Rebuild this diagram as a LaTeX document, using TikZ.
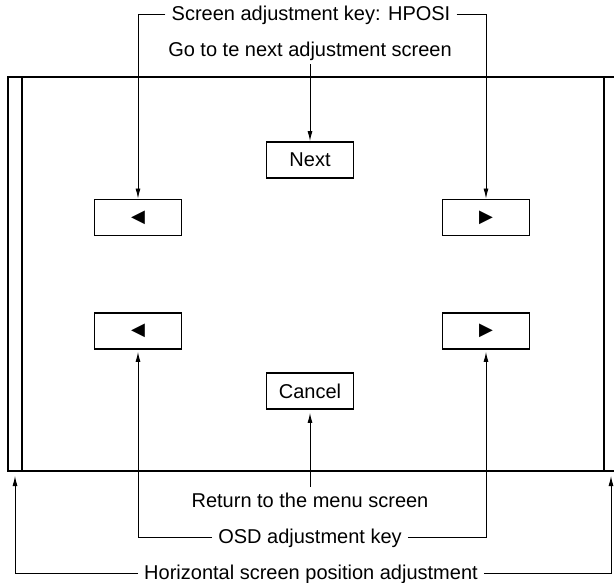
\documentclass[tikz,border=0pt]{standalone}
\usepackage{fontspec}
\setmainfont{Liberation Sans}
\newfontfamily\symfont{DejaVu Sans}
\usetikzlibrary{arrows.meta, positioning}
\tikzset{
  key/.style={draw, line width=1.9pt, minimum width=87pt, minimum height=36pt, inner sep=0pt},
  note/.style={inner xsep=6pt, inner ysep=7pt, text height=13.5pt, text depth=0pt},
  arrow/.style={-{Latex[length=10pt,width=5pt]}, line width=0.9pt},
  frame/.style={line width=1.4pt},
  every node/.style={font=\fontsize{20}{23}\selectfont}
}

\begin{document}
\begin{tikzpicture}[x=1pt,y=-1pt]
    \useasboundingbox (0,0) rectangle (614,583);
    % screen frame
    \draw[frame] (614,77) -- (8,77) -- (8,471) -- (614,471);
    \draw[frame] (22,77) -- (22,471);
    \draw[frame] (604,77) -- (604,471);
    % keys on the screen
    \node[key] (next) at (310,160) {Next};
    \node[key] (lt) at (138,217.5) {\symfont\fontsize{18}{20}\selectfont ◀};
    \node[key] (rt) at (486,217.5) {\symfont\fontsize{18}{20}\selectfont ▶};
    \node[key] (lb) at (138,331) {\symfont\fontsize{18}{20}\selectfont ◀};
    \node[key] (rb) at (486,331) {\symfont\fontsize{18}{20}\selectfont ▶};
    \node[key] (cancel) at (310,391) {Cancel};
    % labels
    \node[note] (hposi) at (311,14) {Screen adjustment key: HPOSI};
    \node[note] (gonext) at (310,49.5) {Go to te next adjustment screen};
    \node[note] (ret) at (310,500.5) {Return to the menu screen};
    \node[note] (osd) at (310,537) {OSD adjustment key};
    \node[note] (hpos) at (311,573) {Horizontal screen position adjustment};
    \coordinate (fl) at (15,476);
    \coordinate (fr) at (611,476);
    % leaders
    \draw[arrow] (hposi.west) -| (lt.north);
    \draw[arrow] (hposi.east) -| (rt.north);
    \draw[arrow, shorten <=1pt] (gonext.south) -- (next.north);
    \draw[arrow, shorten >=3pt] (ret.north) -- (cancel.south);
    \draw[arrow, shorten >=2pt] (osd.west) -| (lb.south);
    \draw[arrow, shorten >=2pt] (osd.east) -| (rb.south);
    \draw[arrow] (hpos.west) -| (fl);
    \draw[arrow] (hpos.east) -| (fr);
\end{tikzpicture}
\end{document}
